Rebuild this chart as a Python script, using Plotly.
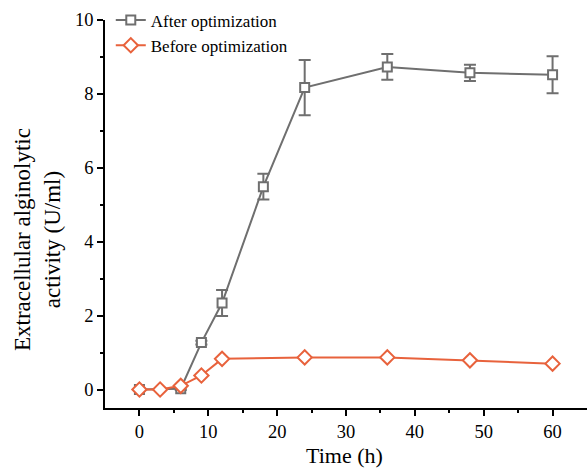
import plotly.graph_objects as go

time_after = [0, 6, 9, 12, 18, 24, 36, 48, 60]
after_vals = [0.0, 0.02, 1.27, 2.34, 5.49, 8.17, 8.73, 8.57, 8.52]
after_err = [0.03, 0.03, 0.05, 0.35, 0.35, 0.75, 0.35, 0.22, 0.5]

time_before = [0, 3, 6, 9, 12, 24, 36, 48, 60]
before_vals = [0.0, 0.0, 0.1, 0.38, 0.83, 0.87, 0.87, 0.79, 0.7]
before_err = [0.03, 0.02, 0.05, 0.05, 0.04, 0.04, 0.04, 0.04, 0.04]

gray = "#6f6f6f"
orange = "#e8623c"
font_family = "Liberation Serif, Times New Roman, serif"

fig = go.Figure()
fig.add_trace(go.Scatter(
    x=time_after, y=after_vals, mode="lines+markers", name="After optimization",
    line=dict(color=gray, width=2),
    marker=dict(symbol="square", size=9, color="white", line=dict(color=gray, width=2)),
    error_y=dict(type="data", array=after_err, color=gray, thickness=2, width=6),
))
fig.add_trace(go.Scatter(
    x=time_before, y=before_vals, mode="lines+markers", name="Before optimization",
    line=dict(color=orange, width=2),
    marker=dict(symbol="diamond", size=11, color="white", line=dict(color=orange, width=2)),
    error_y=dict(type="data", array=before_err, color=orange, thickness=1.5, width=4),
))

axis_common = dict(
    showline=True, linecolor="black", linewidth=1.5, mirror=False,
    showgrid=False, zeroline=False, automargin=False,
    ticks="outside", ticklen=6, tickwidth=1.5, tickcolor="black",
    tickfont=dict(family=font_family, size=18.5, color="black"),
)

fig.update_layout(
    width=587, height=469,
    margin=dict(l=105, r=0, t=20, b=61),
    paper_bgcolor="white", plot_bgcolor="white",
    font=dict(family=font_family, color="black"),
    showlegend=True,
    legend=dict(x=0.012, y=1.045, xanchor="left", yanchor="top",
                font=dict(family=font_family, size=17, color="black"),
                bgcolor="rgba(0,0,0,0)", tracegroupgap=0, itemwidth=30),
    xaxis=dict(**axis_common, range=[-5, 65], tickvals=[0, 10, 20, 30, 40, 50, 60],
               minor=dict(tickvals=[5, 15, 25, 35, 45, 55], ticks="outside", ticklen=3,
                          tickwidth=1.5, tickcolor="black")),
    yaxis=dict(**axis_common, range=[-0.5, 10], tickvals=[0, 2, 4, 6, 8, 10],
               minor=dict(tickvals=[1, 3, 5, 7, 9], ticks="outside", ticklen=3,
                          tickwidth=1.5, tickcolor="black")),
    annotations=[
        dict(text="Time (h)", xref="paper", yref="paper", x=(344 - 105) / 482, y=-(455 - 408) / 388,
             xanchor="center", yanchor="middle", showarrow=False,
             font=dict(family=font_family, size=22, color="black")),
        dict(text="Extracellular alginolytic<br>activity (U/ml)", xref="paper", yref="paper",
             x=-(105 - 37) / 482, y=(408 - 240) / 388, xanchor="center", yanchor="middle",
             textangle=-90, showarrow=False,
             font=dict(family=font_family, size=23, color="black")),
    ],
)

fig.write_html("out.html", config={"displayModeBar": False},
               post_script="document.body.style.margin='0';document.body.style.overflow='hidden';")
